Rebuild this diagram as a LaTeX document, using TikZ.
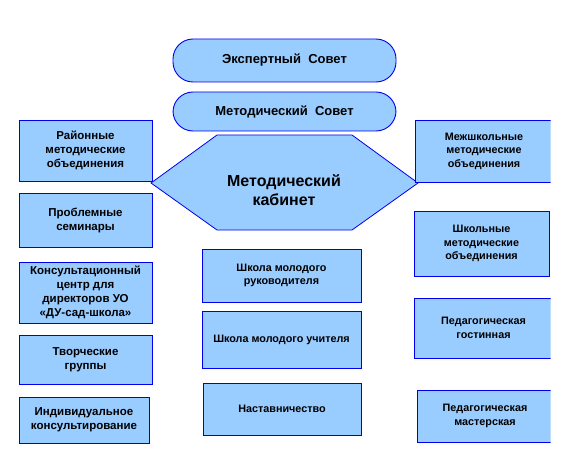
\documentclass[tikz,border=0pt]{standalone}
\usepackage{fontspec}
\setmainfont{Liberation Sans}
\definecolor{boxc}{HTML}{99CCFF}
\definecolor{bordc}{HTML}{0000F0}
\begin{document}
\begin{tikzpicture}[x=1pt,y=-1pt,
  box/.style={draw=bordc, fill=boxc, line width=0.9pt, align=center, inner sep=0pt, text=black},
  lbox/.style={box, font=\fontsize{11.5}{14}\selectfont\bfseries},
  rbox/.style={box, font=\fontsize{10.8}{13.5}\selectfont\bfseries},
  pill/.style={box, rounded corners=20pt, minimum width=223pt, font=\fontsize{13}{15}\selectfont\bfseries},
  hexc/.style={font=\fontsize{16}{19}\selectfont\bfseries, align=center, inner sep=0pt, text=black}
]
\useasboundingbox (0,0) rectangle (570,468);
\fill[white] (0,0) rectangle (570,468);
% top
\node[pill, minimum height=43pt] (expert) at (284.5,60.5) {Экспертный\ \ Совет};
\node[pill, minimum height=39pt] (metsov) at (284.5,111.5) {Методический\ \ Совет};
% left column
\node[lbox, minimum width=133pt, minimum height=61pt] (l1) at (85.5,150.5) {Районные\\методические\\объединения};
\node[lbox, minimum width=133pt, minimum height=54pt] (l2) at (85.5,220) {Проблемные\\семинары};
\node[lbox, minimum width=133pt, minimum height=61pt] (l3) at (85.5,292.5) {Консультационный\\центр для\\директоров УО\\«ДУ-сад-школа»};
\node[lbox, minimum width=133pt, minimum height=49pt] (l4) at (85.5,359.5) {Творческие\\группы};
\node[lbox, minimum width=130pt, minimum height=46pt] (l5) at (84,420) {Индивидуальное\\консультирование};
% hexagon
\draw[draw=bordc, fill=boxc, line width=0.8pt] (151,183) -- (217,135) -- (352,135) -- (418,183) -- (352,230) -- (217,230) -- cycle;
\node[hexc] (kab) at (284,190) {Методический\\кабинет};
% right column (clipped at right edge)
\begin{scope}
\clip (0,0) rectangle (550.5,468);
\node[rbox, minimum width=138pt, minimum height=62pt] (r1) at (484,151) {Межшкольные\\методические\\объединения};
\node[rbox, minimum width=135pt, minimum height=65pt] (r2) at (481.5,243.5) {Школьные\\методические\\объединения};
\node[rbox, minimum width=139pt, minimum height=60pt] (r3) at (483.5,328) {Педагогическая\\гостинная};
\node[rbox, minimum width=136pt, minimum height=52pt] (r4) at (485,416) {Педагогическая\\мастерская};
\end{scope}
% centre column
\node[rbox, minimum width=159pt, minimum height=53pt] (c1) at (281.5,275.5) {Школа молодого\\руководителя};
\node[rbox, minimum width=159pt, minimum height=57pt] (c2) at (281.5,339.5) {Школа молодого учителя};
\node[rbox, minimum width=158pt, minimum height=52pt] (c3) at (282,409) {Наставничество};
\end{tikzpicture}
\end{document}
